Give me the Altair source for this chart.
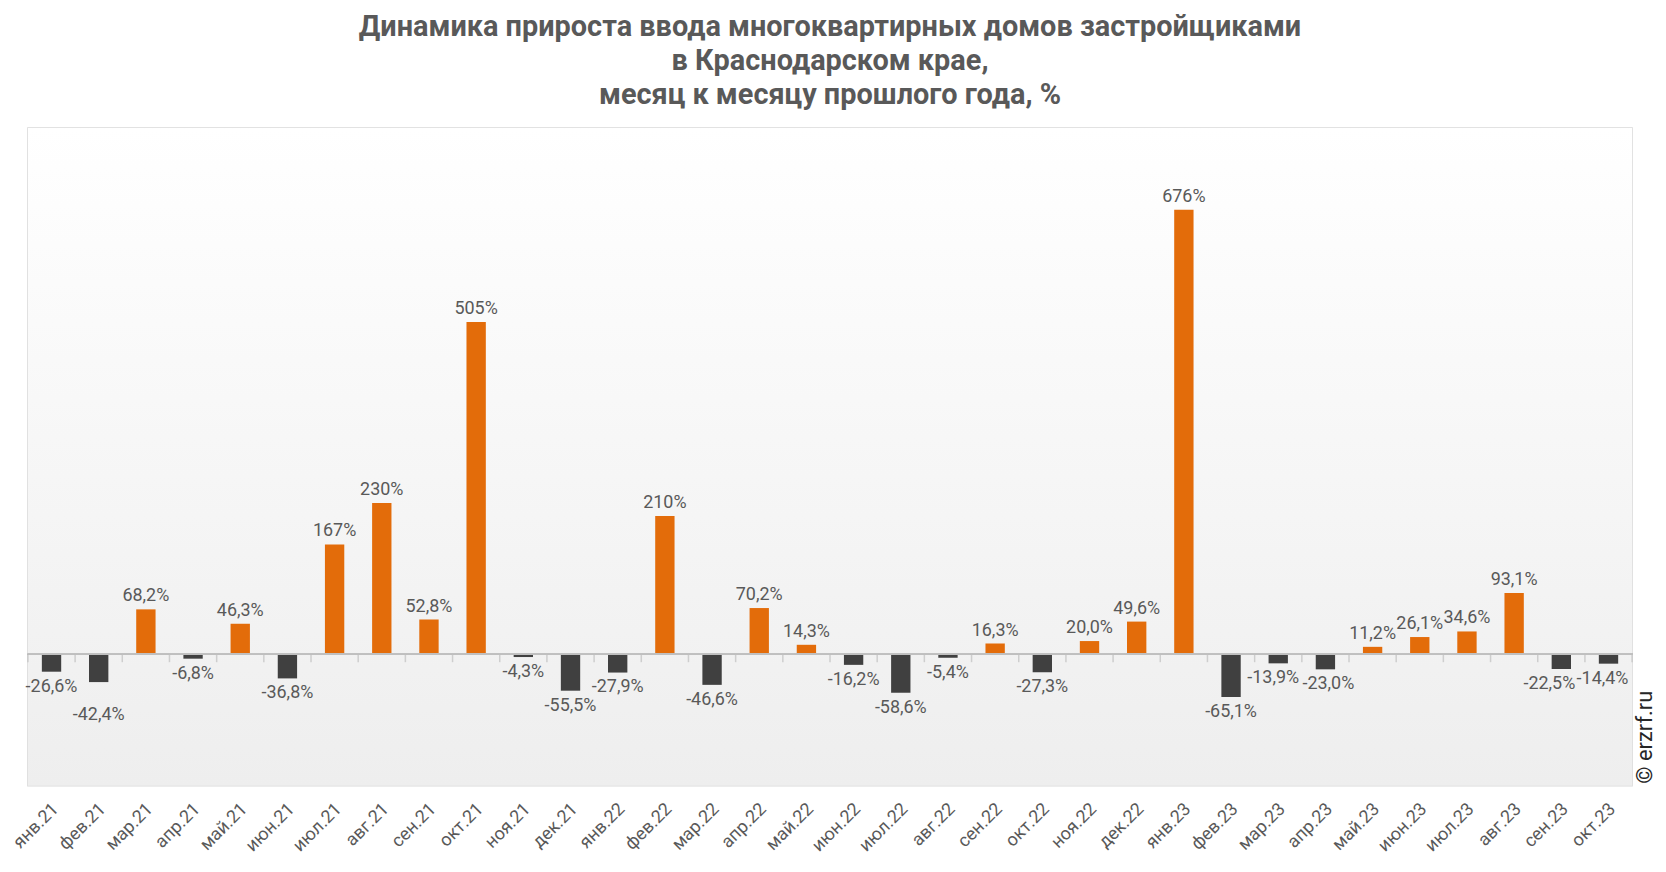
import altair as alt
import pandas as pd

months = [
    "янв.21", "фев.21", "мар.21", "апр.21", "май.21", "июн.21", "июл.21", "авг.21",
    "сен.21", "окт.21", "ноя.21", "дек.21", "янв.22", "фев.22", "мар.22", "апр.22",
    "май.22", "июн.22", "июл.22", "авг.22", "сен.22", "окт.22", "ноя.22", "дек.22",
    "янв.23", "фев.23", "мар.23", "апр.23", "май.23", "июн.23", "июл.23", "авг.23",
    "сен.23", "окт.23",
]
growth = [
    -26.6, -42.4, 68.2, -6.8, 46.3, -36.8, 167, 230,
    52.8, 505, -4.3, -55.5, -27.9, 210, -46.6, 70.2,
    14.3, -16.2, -58.6, -5.4, 16.3, -27.3, 20.0, 49.6,
    676, -65.1, -13.9, -23.0, 11.2, 26.1, 34.6, 93.1,
    -22.5, -14.4,
]

TITLE = ["Динамика прироста ввода многоквартирных домов застройщиками",
         "в Краснодарском крае,",
         "месяц к месяцу прошлого года, %"]

ORANGE = "#E36C0A"
DARK = "#404040"
GREY_TXT = "#595959"
W, H = 1610, 660

# label nudges (dx, dy) where neighbouring labels collide
NUDGE = {"фев.21": (0, 18), "мар.23": (-5, 0), "апр.23": (3, 0),
         "сен.23": (-12, 0), "окт.23": (-6, 0)}


def fmt(v):
    if abs(v) >= 100:
        return f"{v:.0f}%"
    return f"{v:.1f}".replace(".", ",") + "%"


df = pd.DataFrame({"month": months, "v": growth})
df["label"] = [fmt(v) for v in growth]

x_enc = alt.X("month:N", sort=months, title=None,
              scale=alt.Scale(paddingInner=0, paddingOuter=0),
              axis=alt.Axis(labelAngle=315, labelAlign="right", labelBaseline="top",
                            labelPadding=14, labelOffset=-2, labelFontSize=18,
                            labelColor=GREY_TXT, labelFont="Roboto",
                            domain=False, ticks=False, grid=False))
y_enc = alt.Y("v:Q", axis=None, scale=alt.Scale(domain=[-200, 800], nice=False))
x_pos = alt.X("month:N", sort=months)

base = alt.Chart(df)

bg = alt.Chart(pd.DataFrame({"a": [0]})).mark_rect(
    color=alt.Gradient(gradient="linear", x1=0, x2=0, y1=0, y2=1,
                       stops=[alt.GradientStop(color="#FFFFFF", offset=0),
                              alt.GradientStop(color="#EEEEEE", offset=1)])
).encode(x=alt.value(0), x2=alt.value(W), y=alt.value(0), y2=alt.value(H))

bars = base.mark_bar(width=alt.RelativeBandSize(0.41)).encode(
    x=x_enc, y=y_enc,
    color=alt.condition(alt.datum.v > 0, alt.value(ORANGE), alt.value(DARK)),
)

zero = base.mark_rule(color="#BFBFBF", strokeWidth=1.5).encode(y=alt.datum(0))

tick_style = dict(orient="vertical", color="#BFBFBF", thickness=1.5, size=8, yOffset=4)
ticks = base.mark_tick(**tick_style).encode(
    x=alt.X("month:N", sort=months, bandPosition=0), y=alt.datum(0))
last_tick = base.transform_filter(alt.datum.month == months[-1]).mark_tick(**tick_style).encode(
    x=alt.X("month:N", sort=months, bandPosition=1), y=alt.datum(0))

lbl_style = dict(font="Roboto", fontSize=18, color=GREY_TXT)
plain = alt.FieldOneOfPredicate(field="month", oneOf=list(NUDGE))
pos_lbl = base.transform_filter(alt.datum.v > 0).transform_filter(~plain).mark_text(
    baseline="alphabetic", dy=-8, **lbl_style).encode(x=x_pos, y="v:Q", text="label:N")
neg_lbl = base.transform_filter(alt.datum.v < 0).transform_filter(~plain).mark_text(
    baseline="top", dy=6, **lbl_style).encode(x=x_pos, y="v:Q", text="label:N")

nudged = []
for m, (dx, dy) in NUDGE.items():
    neg = growth[months.index(m)] < 0
    nudged.append(
        base.transform_filter(alt.datum.month == m).mark_text(
            baseline="top" if neg else "alphabetic", dx=dx,
            dy=(6 + dy) if neg else (-8 - dy), **lbl_style)
        .encode(x=x_pos, y="v:Q", text="label:N"))

mark_src = alt.Chart(pd.DataFrame({"a": [0]})).mark_text(
    text="© erzrf.ru", angle=270, align="left", baseline="middle",
    font="Roboto", fontSize=22, color="#262626"
).encode(x=alt.value(W + 13), y=alt.value(H - 2))

chart = (
    alt.layer(bg, bars, zero, ticks, last_tick, pos_lbl, neg_lbl, *nudged, mark_src)
    .properties(width=W, height=H,
                autosize=alt.AutoSizeParams(type="none"),
                padding={"left": 20, "top": 119, "right": 26, "bottom": 77},
                background="white",
                title=alt.TitleParams(TITLE, font="Roboto", fontSize=29, fontWeight="bold",
                                      color=GREY_TXT, lineHeight=34, anchor="middle", offset=18))
    .configure_view(stroke="#D9D9D9", strokeWidth=1.5)
)

chart.save("out.html", embed_options={"renderer": "svg", "actions": False})
